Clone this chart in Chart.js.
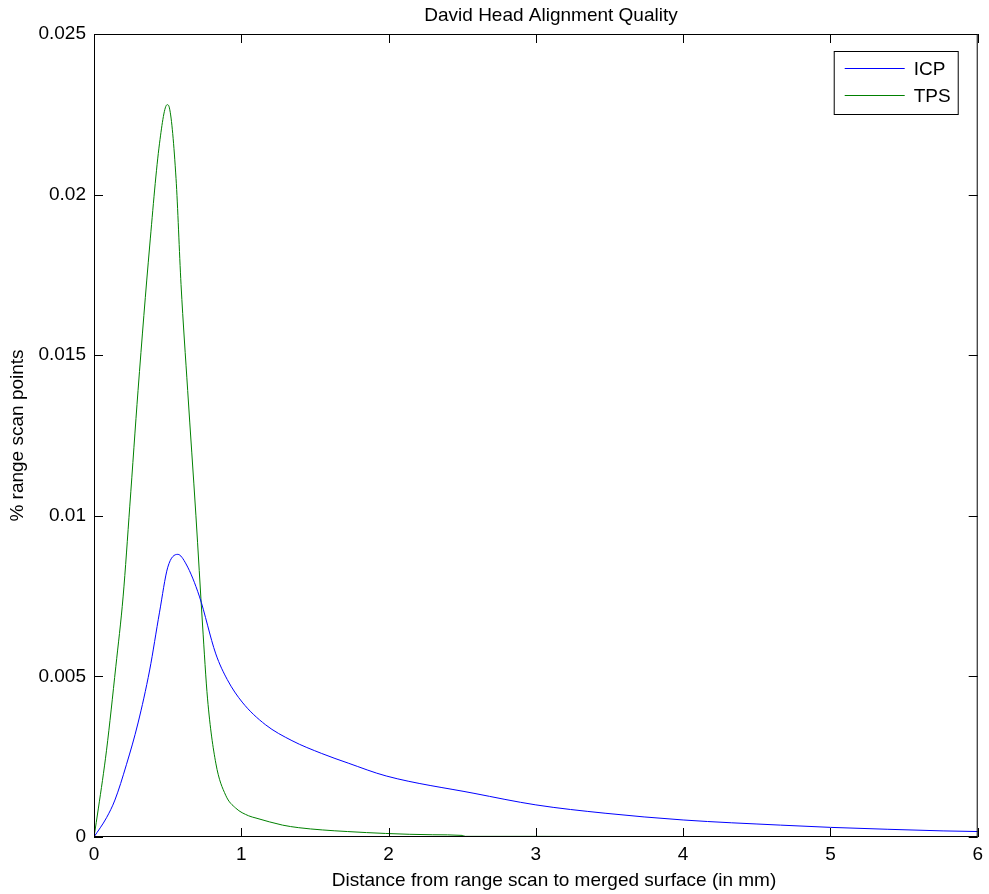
<!DOCTYPE html>
<html>
<head>
<meta charset="utf-8">
<title>David Head Alignment Quality</title>
<script src="https://cdn.jsdelivr.net/npm/chart.js@4/dist/chart.umd.min.js"></script>
<style>
  html, body { margin: 0; padding: 0; background: #fff; }
  #quality { display: block; }
</style>
</head>
<body>
<canvas id="quality" width="989" height="894"></canvas>
<script>
var icpX = [0, 0.085, 0.142, 0.22, 0.299, 0.378, 0.445, 0.501, 0.569, 0.625, 0.715, 0.827, 0.905, 1.006, 1.163, 1.344, 1.546, 1.726, 1.984, 2.58, 3.0, 3.47, 4.0, 4.66, 5.0, 5.39, 5.765, 6];
var icpY = [0, 0.0006, 0.00115, 0.00225, 0.00355, 0.0052, 0.007, 0.0084, 0.0088, 0.0085, 0.0075, 0.0057, 0.0049, 0.0042, 0.0035, 0.003, 0.0026, 0.0023, 0.0019, 0.00136, 0.001, 0.00074, 0.00053, 0.00037, 0.0003, 0.00024, 0.00019, 0.00017];

var tpsX = [0, 0.03, 0.085, 0.148, 0.198, 0.243, 0.299, 0.378, 0.445, 0.497, 0.512, 0.557, 0.591, 0.636, 0.692, 0.737, 0.771, 0.827, 0.894, 0.962, 1.05, 1.1, 1.28, 1.39, 1.55, 1.72, 1.98, 2.3, 2.5, 2.52, 3, 4, 5, 6];
var tpsY = [0, 0.0009, 0.0027, 0.0053, 0.0075, 0.0103, 0.0139, 0.0184, 0.0216, 0.0228, 0.0227, 0.0205, 0.0172, 0.0139, 0.01, 0.0066, 0.0043, 0.0023, 0.0013, 0.0009, 0.00066, 0.00059, 0.00037, 0.00029, 0.00022, 0.00017, 0.00011, 0.00007, 0.00005, 0.00002, 0.00002, 0.00001, 0.00001, 0.00001];

var xTicks = [0, 1, 2, 3, 4, 5, 6];
var yTicks = [0, 0.005, 0.01, 0.015, 0.02, 0.025];

var FONT = '19px "Liberation Sans", Arial, sans-serif';

function toPoints(xs, ys) {
  return xs.map(function (x, i) { return { x: x, y: ys[i] }; });
}

// frame, inward ticks, legend box and titles, matlab style
var matlabLook = {
  id: "matlabLook",
  afterDraw: function (chart) {
    var ctx = chart.ctx;
    var a = chart.chartArea;
    var xs = chart.scales.x, ys = chart.scales.y;
    ctx.save();
    ctx.strokeStyle = "#000";
    ctx.lineWidth = 1;
    ctx.strokeRect(a.left + 0.5, a.top + 0.5, a.right - a.left - 1, a.bottom - a.top - 1);

    ctx.beginPath();
    xTicks.forEach(function (v) {
      var px = Math.round(xs.getPixelForValue(v)) + 0.5;
      ctx.moveTo(px, a.bottom); ctx.lineTo(px, a.bottom - 9);
      ctx.moveTo(px, a.top); ctx.lineTo(px, a.top + 9);
    });
    yTicks.forEach(function (v) {
      var py = Math.round(ys.getPixelForValue(v)) + 0.5;
      ctx.moveTo(a.left, py); ctx.lineTo(a.left + 9, py);
      ctx.moveTo(a.right, py); ctx.lineTo(a.right - 9, py);
    });
    ctx.stroke();

    // legend
    var bx = a.right - 144, by = a.top + 17, bw = 124, bh = 63;
    ctx.fillStyle = "#fff";
    ctx.fillRect(bx, by, bw, bh);
    ctx.strokeRect(bx + 0.5, by + 0.5, bw, bh);
    ctx.font = FONT;
    ctx.textBaseline = "middle";
    ctx.textAlign = "left";
    chart.data.datasets.forEach(function (ds, i) {
      var ly = by + 17.5 + i * 27;
      ctx.strokeStyle = ds.borderColor;
      ctx.beginPath();
      ctx.moveTo(bx + 11, ly); ctx.lineTo(bx + 71, ly);
      ctx.stroke();
      ctx.fillStyle = "#000";
      ctx.fillText(ds.label, bx + 80, ly + 1);
    });

    // titles
    ctx.fillStyle = "#000";
    ctx.textAlign = "center";
    ctx.fillText("David Head Alignment Quality", 551, 16);
    ctx.fillText("Distance from range scan to merged surface (in mm)", 554, 881);
    ctx.translate(18, (a.top + a.bottom) / 2);
    ctx.rotate(-Math.PI / 2);
    ctx.fillText("% range scan points", 0, 0);
    ctx.restore();
  }
};

new Chart("quality", {
  type: "line",
  data: {
    datasets: [{
      label: "ICP",
      data: toPoints(icpX, icpY),
      borderColor: "#0000ff",
      borderWidth: 1,
      pointRadius: 0,
      cubicInterpolationMode: "monotone"
    }, {
      label: "TPS",
      data: toPoints(tpsX, tpsY),
      borderColor: "#008000",
      borderWidth: 1,
      pointRadius: 0,
      cubicInterpolationMode: "monotone"
    }]
  },
  options: {
    responsive: false,
    animation: false,
    devicePixelRatio: 1,
    layout: { padding: { left: 0, top: 34, right: 5, bottom: 0 } },
    plugins: {
      legend: { display: false },
      title: { display: false },
      tooltip: { enabled: false }
    },
    scales: {
      x: {
        type: "linear",
        min: 0,
        max: 6,
        afterFit: function (s) { s.height = 57; },
        afterBuildTicks: function (s) { s.ticks = xTicks.map(function (v) { return { value: v }; }); },
        grid: { display: false, drawTicks: false },
        border: { display: false },
        ticks: { color: "#000", font: { family: '"Liberation Sans", Arial, sans-serif', size: 19 }, padding: 6, maxRotation: 0 }
      },
      y: {
        type: "linear",
        min: 0,
        max: 0.025,
        afterFit: function (s) { s.width = 94; },
        afterBuildTicks: function (s) { s.ticks = yTicks.map(function (v) { return { value: v }; }); },
        grid: { display: false, drawTicks: false },
        border: { display: false },
        ticks: {
          color: "#000",
          font: { family: '"Liberation Sans", Arial, sans-serif', size: 19 },
          padding: 8,
          callback: function (v) { return String(+v.toFixed(3)); }
        }
      }
    }
  },
  plugins: [matlabLook]
});
</script>
</body>
</html>
